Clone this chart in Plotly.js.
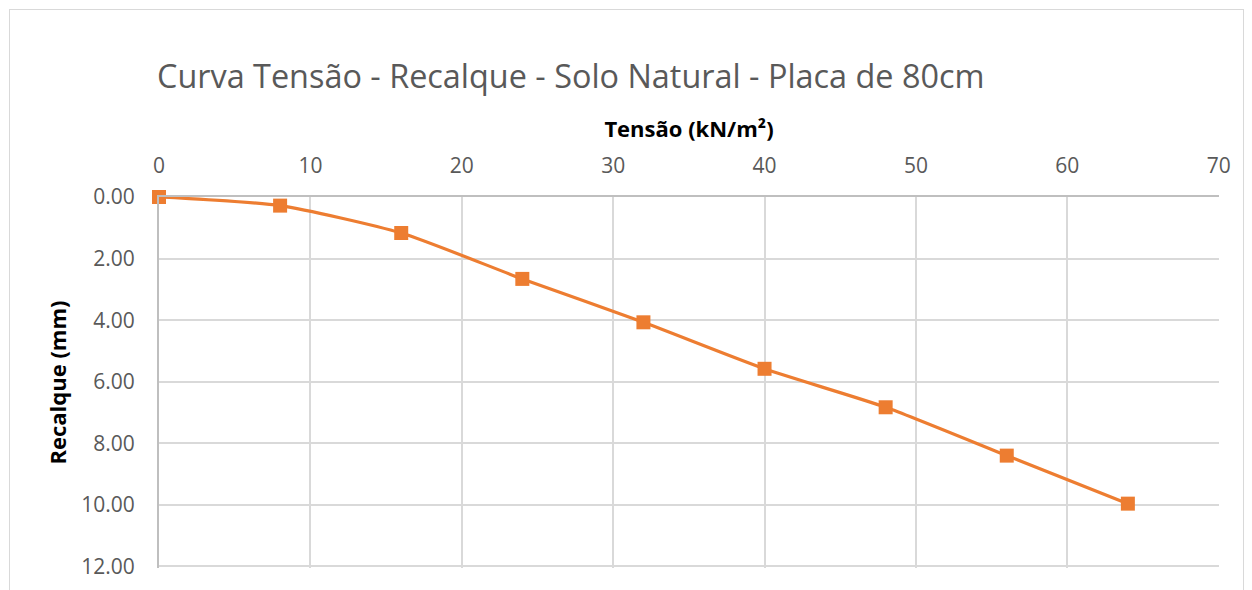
<!DOCTYPE html>
<html>
<head>
<meta charset="utf-8">
<script src="https://cdn.plot.ly/plotly-3.0.1.min.js"></script>
<style>
html,body{margin:0;padding:0;background:#fff;}
#wrap{position:relative;width:1252px;height:590px;overflow:hidden;}
#chart{position:absolute;left:0;top:0;width:1252px;height:590px;}
#frame{position:absolute;left:9px;top:9px;width:1233px;height:600px;border:1px solid #d9d9d9;pointer-events:none;}
</style>
</head>
<body>
<div id="wrap"><div id="chart"></div><div id="frame"></div></div>
<script>
const tensao = [0, 8, 16, 24, 32, 40, 48, 56, 64];
const recalque = [0.00, 0.28, 1.17, 2.66, 4.07, 5.58, 6.83, 8.40, 9.96];
const yTickVals = [0, 2, 4, 6, 8, 10, 12];
const yTickText = ["0.00", "2.00", "4.00", "6.00", "8.00", "10.00", "12.00"];
const xTickVals = [0, 10, 20, 30, 40, 50, 60, 70];

const font = "Open Sans, sans-serif";
const trace = {
  x: tensao, y: recalque, type: "scatter", mode: "lines+markers",
  line: {color: "#ED7D31", width: 3.2, shape: "spline", smoothing: 0.6},
  marker: {symbol: "square", size: 14, color: "#ED7D31"},
  cliponaxis: false,
  hoverinfo: "skip", showlegend: false
};
const layout = {
  width: 1252, height: 590,
  margin: {l: 159, r: 33, t: 197, b: 22},
  paper_bgcolor: "rgba(0,0,0,0)", plot_bgcolor: "rgba(0,0,0,0)",
  font: {family: font, color: "#595959"},
  title: {text: "Curva Tensão - Recalque - Solo Natural - Placa de 80cm",
    font: {family: font, size: 32.4, color: "#595959"},
    x: 157/1252, xanchor: "left", xref: "container",
    y: 1 - 77/590, yanchor: "middle", yref: "container"},
  xaxis: {
    side: "top", range: [0, 70.02], tickvals: xTickVals,
    showgrid: true, gridcolor: "#d9d9d9", gridwidth: 2,
    showline: true, linecolor: "#bfbfbf", linewidth: 2,
    zeroline: false, ticks: "", ticklabelstandoff: 14,
    tickfont: {family: font, size: 21, color: "#595959"},
    title: {text: "<b>Tensão (kN/m²)</b>", font: {family: font, size: 22, color: "#000"}, standoff: 7}
  },
  yaxis: {
    range: [12.05, 0], tickvals: yTickVals, ticktext: yTickText,
    showgrid: true, gridcolor: "#d9d9d9", gridwidth: 2,
    showline: true, linecolor: "#bfbfbf", linewidth: 2,
    zeroline: false, ticks: "", ticklabelstandoff: 18,
    tickfont: {family: font, size: 21, color: "#595959"},
    title: {text: "<b>Recalque (mm)</b>", font: {family: font, size: 22, color: "#000"}, standoff: 9}
  }
};
Plotly.newPlot("chart", [trace], layout, {staticPlot: true, displayModeBar: false});
</script>
</body>
</html>
